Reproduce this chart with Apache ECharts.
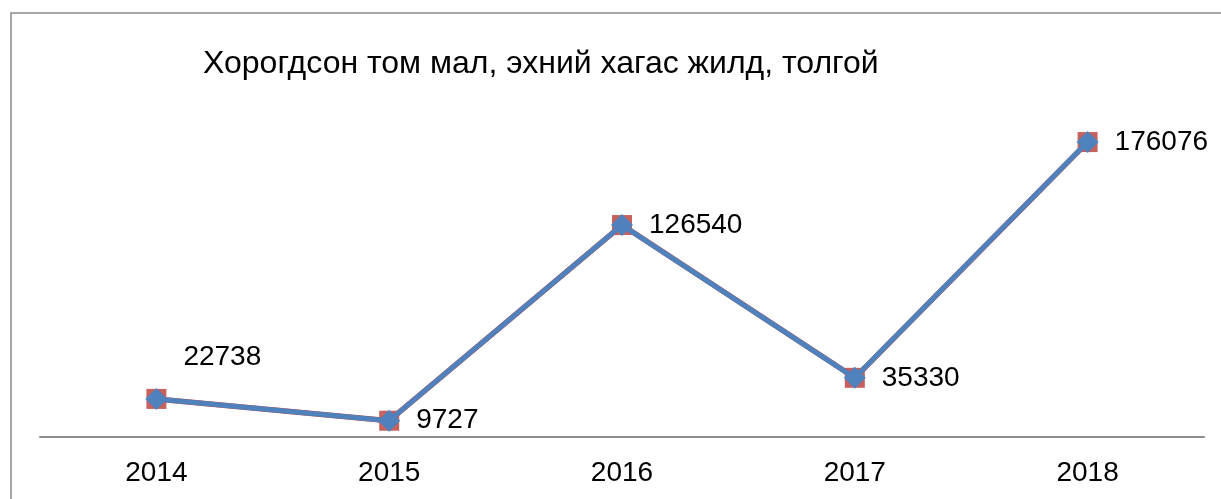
<!DOCTYPE html>
<html>
<head>
<meta charset="utf-8">
<script src="https://cdn.jsdelivr.net/npm/echarts@6/dist/echarts.min.js"></script>
<style>
  html, body { margin: 0; padding: 0; background: #fff; }
  #chart { width: 1221px; height: 499px; }
</style>
</head>
<body>
<div id="chart"></div>
<script>
// data
const years = ["2014", "2015", "2016", "2017", "2018"];
const deadLivestock = [22738, 9727, 126540, 35330, 176076];
const chartTitle = "Хорогдсон том мал, эхний хагас жилд, толгой";

const myChart = echarts.init(document.getElementById("chart"));

// label per point, first one sits above the point
const labelData = deadLivestock.map((v, i) => {
  if (i === 0) {
    return { value: v, label: { offset: [0, -42] } };
  }
  return v;
});

const option = {
  animation: false,
  textStyle: { fontFamily: "Liberation Sans, Arial, sans-serif" },
  title: {
    text: chartTitle,
    left: 198,
    top: 43,
    textStyle: { fontSize: 32, fontWeight: "normal", color: "#000" },
  },
  graphic: [
    {
      type: "rect",
      shape: { x: 11, y: 13, width: 1300, height: 600 },
      style: { fill: "none", stroke: "#8c8c8c", lineWidth: 1.5 },
      silent: true,
    },
  ],
  grid: { left: 40, right: 17, top: 102, bottom: 62 },
  xAxis: {
    type: "category",
    data: years,
    boundaryGap: true,
    axisLine: { lineStyle: { color: "#8c8c8c", width: 2 } },
    axisTick: { show: false },
    axisLabel: { color: "#000", fontSize: 28, margin: 22 },
  },
  yAxis: {
    type: "value",
    min: 0,
    max: 200000,
    show: false,
    splitLine: { show: false },
  },
  series: [
    {
      type: "line",
      data: deadLivestock,
      symbol: "rect",
      symbolSize: 20,
      lineStyle: { color: "#c0504d", width: 5.5 },
      itemStyle: { color: "#c0504d", opacity: 0.9 },
      z: 2,
    },
    {
      type: "line",
      data: labelData,
      symbol: "diamond",
      symbolSize: 22,
      lineStyle: { color: "#4f81bd", width: 5 },
      itemStyle: { color: "#4f81bd" },
      label: {
        show: true,
        position: "right",
        distance: 16,
        color: "#000",
        fontSize: 28,
      },
      z: 3,
    },
  ],
};

myChart.setOption(option);
</script>
</body>
</html>
